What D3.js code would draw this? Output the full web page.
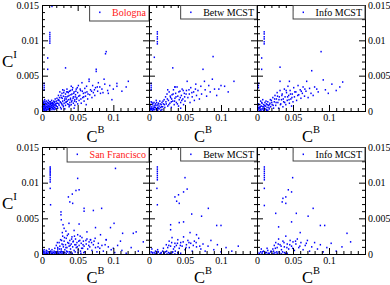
<!DOCTYPE html>
<html><head><meta charset="utf-8">
<script src="https://cdn.jsdelivr.net/npm/d3@7"></script>
<style>
body{margin:0;background:#fff}
svg{display:block}
text{font-family:"Liberation Serif","Times New Roman",serif}
</style>
</head><body><svg id="c" width="390" height="285"></svg>
<script>
// ---- data (C^B, C^I) ----
const bologna = [
[.001,.0001],[.002,.0003],[.003,.0001],[.003,.0005],[.004,.0002],[.004,.0008],[.005,.0004],[.005,.0011],[.006,.0001],[.006,.0006],[.007,.0003],[.007,.0009],[.008,.0005],[.008,.0012],[.009,.0002],[.009,.0007],[.010,.0004],[.010,.0010],[.011,.0001],[.011,.0006],[.012,.0003],[.012,.0009],[.012,.0013],[.013,.0005],[.013,.0011],[.014,.0002],[.014,.0008],[.015,.0004],[.015,.0012],[.016,.0006],[.016,.0010],[.017,.0002],[.017,.0008],[.018,.0005],[.018,.0013],[.019,.0003],[.019,.0010],[.020,.0007],[.020,.0014],[.002,.0007],[.001,.0004],[.003,.0010],[.006,.0014],[.009,.0015],[.004,.0013],
[.0015,.0002],[.0025,.0006],[.0035,.0003],[.0045,.0010],[.0055,.0007],[.0065,.0002],[.0075,.0012],[.0085,.0008],[.0095,.0004],[.0105,.0013],[.0115,.0009],[.0125,.0006],[.0135,.0015],[.0145,.0011],[.0155,.0007],[.0165,.0014],[.0175,.0005],[.0185,.0017],[.0195,.0008],[.0012,.0009],[.0022,.0012],[.0032,.0007],[.0042,.0001],[.0052,.0005],[.0062,.0010],[.0072,.0006],[.0082,.0002],[.0092,.0011],[.0102,.0007],[.0112,.0004],[.0122,.0011],[.0132,.0008],[.0142,.0005],[.0152,.0009],[.0162,.0003],[.0172,.0012],[.0182,.0009],[.0007,.0006],[.0017,.0011],[.0027,.0014],[.0037,.0016],
[.021,.0018],[.022,.0004],[.022,.0011],[.023,.0022],[.024,.0008],[.024,.0015],[.025,.0027],[.026,.0005],[.026,.0012],[.027,.0019],[.028,.0009],[.028,.0025],[.029,.0014],[.030,.0006],[.030,.0021],[.031,.0011],[.031,.0029],[.032,.0017],[.033,.0008],[.033,.0024],[.034,.0013],[.035,.0020],[.035,.0031],[.036,.0010],[.037,.0016],[.037,.0026],[.038,.0006],[.038,.0022],[.039,.0012],[.040,.0018],[.040,.0029],[.041,.0009],[.042,.0024],[.042,.0015],[.043,.0033],[.044,.0011],[.044,.0020],[.045,.0027],[.046,.0016],[.046,.0008],[.047,.0023],[.048,.0013],[.048,.0031],[.049,.0019],[.050,.0010],[.050,.0026],[.023,.0016],[.027,.0003],[.032,.0003],[.036,.0027],[.041,.0035],[.045,.0004],[.039,.0008],[.034,.0017],[.029,.0030],
[.0205,.0011],[.0215,.0006],[.0225,.0015],[.0235,.0010],[.0245,.0019],[.0255,.0013],[.0265,.0022],[.0275,.0011],[.0285,.0018],[.0295,.0008],[.0305,.0026],[.0315,.0015],[.0325,.0020],[.0335,.0012],[.0345,.0027],[.0355,.0014],[.0365,.0021],[.0375,.0009],[.0385,.0028],[.0395,.0016],[.0405,.0023],[.0415,.0013],[.0425,.0030],[.0435,.0018],[.0445,.0025],[.0455,.0014],[.0465,.0020],[.0475,.0028],[.0485,.0017],[.0495,.0033],[.0515,.0021],[.0535,.0031],[.0545,.0017],[.0565,.0028],[.0585,.0020],[.0605,.0026],[.0625,.0035],[.0645,.0024],[.0695,.0028],[.0735,.0030],[.0775,.0034],[.0855,.0026],
[.051,.0036],[.052,.0015],[.053,.0022],[.054,.0029],[.055,.0011],[.056,.0040],[.057,.0019],[.058,.0025],[.059,.0014],[.060,.0032],[.061,.0021],[.062,.0009],[.063,.0027],[.064,.0017],[.066,.0045],[.066,.0042],[.067,.0023],[.068,.0030],[.070,.0019],[.071,.0036],[.072,.0026],[.074,.0022],[.075,.0033],[.076,.0059],[.076,.0056],[.078,.0028],[.079,.0040],[.081,.0034],[.082,.0025],[.084,.0031],[.087,.0045],[.088,.0038],[.090,.0084],[.089,.0081],[.092,.0029],[.093,.0025],[.095,.0036],[.098,.0016],[.100,.0031],[.105,.0039],[.105,.0035],[.112,.0028],[.118,.0034],[.121,.0042],
[.011,.0111],[.011,.0108],[.011,.0105],[.011,.0102],[.011,.0099],[.011,.0096],[.014,.0148],[.003,.0039],[.003,.0036],[.003,.0033],[.003,.0030],[.008,.0075],[.008,.0059],[.033,.0061]
];
const bolognaBetw = [
[.001,.0001],[.002,.0004],[.003,.0002],[.004,.0006],[.005,.0001],[.005,.0009],[.006,.0004],[.007,.0007],[.007,.0012],[.008,.0002],[.009,.0005],[.009,.0010],[.010,.0003],[.011,.0008],[.012,.0001],[.012,.0005],[.013,.0011],[.014,.0003],[.014,.0007],[.015,.0014],[.016,.0005],[.017,.0009],[.018,.0002],[.018,.0012],[.019,.0006],[.020,.0010],[.002,.0009],[.004,.0012],[.010,.0015],[.003,.0013],
[.0015,.0007],[.0035,.0004],[.0055,.0011],[.0065,.0002],[.0085,.0008],[.0105,.0012],[.0125,.0009],[.0135,.0004],[.0155,.0010],[.0175,.0006],[.0195,.0014],[.0025,.0002],[.0045,.0003],[.0075,.0005],[.0115,.0003],[.0165,.0001],
[.021,.0016],[.022,.0005],[.023,.0020],[.024,.0010],[.025,.0024],[.026,.0007],[.027,.0015],[.028,.0027],[.029,.0011],[.030,.0019],[.031,.0005],[.032,.0023],[.033,.0014],[.034,.0030],[.035,.0009],[.036,.0018],[.037,.0025],[.038,.0012],[.039,.0034],[.040,.0021],[.041,.0007],[.042,.0016],[.043,.0028],[.044,.0012],[.045,.0022],[.046,.0031],[.047,.0017],[.048,.0009],[.049,.0025],[.050,.0014],[.026,.0030],[.031,.0013],[.036,.0034],[.044,.0004],
[.0215,.0009],[.0235,.0013],[.0255,.0017],[.0275,.0009],[.0295,.0021],[.0315,.0017],[.0335,.0024],[.0355,.0014],[.0375,.0020],[.0395,.0010],[.0415,.0027],[.0435,.0019],[.0455,.0015],[.0475,.0029],[.0495,.0020],[.0515,.0024],[.0555,.0030],[.0595,.0026],[.0645,.0031],
[.052,.0029],[.053,.0042],[.054,.0019],[.056,.0024],[.057,.0012],[.058,.0033],[.060,.0020],[.062,.0027],[.063,.0015],[.065,.0038],[.066,.0022],[.068,.0029],[.070,.0017],[.072,.0035],[.073,.0024],[.075,.0059],[.077,.0042],[.078,.0030],[.080,.0021],[.083,.0036],[.085,.0027],[.088,.0045],[.089,.0077],[.091,.0031],[.094,.0022],[.097,.0031],[.100,.0036],[.105,.0035],[.110,.0027],[.118,.0042],
[.0116,.0112],[.0116,.0109],[.0116,.0105],[.0116,.0102],[.0116,.0098],[.0116,.0095],[.003,.0039],[.003,.0036],[.003,.0033],[.003,.0030],[.0074,.0076],[.033,.0061],[.036,.0034]
];
const bolognaInfo = [
[.001,.0002],[.002,.0005],[.003,.0001],[.004,.0004],[.004,.0009],[.005,.0002],[.006,.0007],[.007,.0003],[.007,.0011],[.008,.0006],[.009,.0001],[.009,.0009],[.010,.0004],[.011,.0012],[.012,.0007],[.013,.0002],[.013,.0010],[.014,.0005],[.015,.0013],[.016,.0008],[.017,.0003],[.018,.0011],[.019,.0006],[.020,.0015],[.002,.0010],[.005,.0014],[.008,.0016],[.011,.0003],[.015,.0001],
[.0015,.0008],[.0025,.0003],[.0045,.0006],[.0065,.0012],[.0085,.0003],[.0105,.0008],[.0125,.0014],[.0145,.0009],[.0165,.0005],[.0185,.0016],[.0035,.0005],[.0055,.0001],[.0095,.0006],[.0135,.0001],[.0175,.0009],
[.021,.0009],[.022,.0019],[.023,.0004],[.024,.0013],[.025,.0022],[.026,.0008],[.027,.0017],[.028,.0026],[.029,.0012],[.030,.0004],[.031,.0020],[.032,.0029],[.033,.0010],[.034,.0016],[.035,.0024],[.036,.0006],[.037,.0013],[.038,.0031],[.039,.0020],[.040,.0009],[.041,.0026],[.042,.0015],[.043,.0035],[.044,.0022],[.045,.0011],[.046,.0029],[.047,.0017],[.048,.0007],[.049,.0024],[.050,.0013],[.032,.0042],[.045,.0042],
[.0205,.0012],[.0225,.0008],[.0245,.0017],[.0265,.0012],[.0285,.0021],[.0305,.0016],[.0325,.0009],[.0345,.0022],[.0365,.0017],[.0385,.0012],[.0405,.0029],[.0425,.0020],[.0445,.0016],[.0465,.0024],[.0485,.0019],[.0525,.0027],[.0565,.0022],[.0615,.0028],[.0665,.0031],
[.051,.0033],[.052,.0020],[.054,.0027],[.055,.0015],[.057,.0036],[.058,.0023],[.060,.0030],[.061,.0018],[.063,.0025],[.064,.0034],[.066,.0021],[.068,.0028],[.069,.0042],[.071,.0019],[.073,.0032],[.075,.0025],[.076,.0057],[.078,.0022],[.080,.0034],[.083,.0031],[.085,.0027],[.089,.0084],[.092,.0044],[.095,.0030],[.099,.0025],[.104,.0038],[.110,.0029],[.115,.0034],[.119,.0041],
[.010,.0112],[.010,.0109],[.010,.0105],[.010,.0102],[.010,.0098],[.010,.0095],[.002,.0039],[.002,.0036],[.002,.0033],[.0065,.0075],[.0065,.0059],[.032,.0062]
];
const sanFrancisco = [
[.001,.0001],[.002,.0004],[.003,.0001],[.004,.0003],[.005,.0000],[.006,.0002],[.007,.0004],[.008,.0001],[.009,.0003],[.010,.0000],[.011,.0002],[.012,.0004],[.013,.0001],[.014,.0003],[.015,.0000],[.016,.0002],[.017,.0004],[.018,.0001],[.019,.0003],[.020,.0000],[.021,.0002],[.022,.0004],[.023,.0001],[.024,.0003],[.025,.0000],[.026,.0002],[.027,.0004],[.028,.0001],[.029,.0003],[.030,.0000],[.032,.0002],[.034,.0001],[.036,.0003],[.038,.0000],[.040,.0002],[.003,.0006],[.006,.0005],[.010,.0007],[.014,.0006],[.018,.0008],[.022,.0007],
[.0025,.0002],[.0065,.0001],[.0105,.0003],[.0145,.0001],[.0185,.0002],[.0225,.0001],[.0265,.0003],[.0305,.0002],[.0345,.0004],[.0385,.0003],[.0425,.0001],[.0465,.0003],[.0505,.0002],[.0545,.0001],[.0585,.0002],
[.020,.0012],[.022,.0009],[.024,.0016],[.025,.0011],[.026,.0020],[.027,.0007],[.028,.0014],[.029,.0025],[.030,.0010],[.031,.0018],[.032,.0006],[.033,.0013],[.034,.0022],[.035,.0009],[.036,.0016],[.037,.0028],[.038,.0011],[.039,.0019],[.040,.0007],[.041,.0014],[.042,.0024],[.043,.0010],[.044,.0018],[.045,.0005],[.046,.0013],[.047,.0021],[.048,.0009],[.049,.0016],[.050,.0027],[.051,.0006],[.052,.0012],[.053,.0019],[.054,.0004],[.055,.0015],[.056,.0023],[.057,.0008],[.058,.0018],[.059,.0011],[.060,.0003],[.062,.0014],[.063,.0021],[.064,.0007],[.066,.0017],[.067,.0010],[.068,.0020],[.070,.0005],[.072,.0013],[.073,.0018],[.075,.0009],[.077,.0003],[.079,.0015],[.081,.0008],[.084,.0012],[.086,.0004],[.090,.0020],[.093,.0010],[.097,.0006],[.100,.0008],[.102,.0002],[.106,.0012],[.112,.0005],[.118,.0001],[.125,.0009],[.135,.0004],[.142,.0017],
[.0215,.0016],[.0245,.0007],[.0275,.0019],[.0295,.0013],[.0315,.0023],[.0335,.0009],[.0355,.0026],[.0375,.0015],[.0395,.0012],[.0415,.0021],[.0435,.0017],[.0455,.0025],[.0475,.0013],[.0495,.0010],[.0515,.0018],[.0535,.0025],[.0555,.0008],[.0575,.0013],[.0615,.0019],[.0655,.0012],[.0695,.0016],[.0745,.0022],[.0785,.0010],[.0885,.0013],[.0335,.0032],[.0295,.0041],[.0285,.0030],
[.0115,.0122],[.0115,.0120],[.0115,.0118],[.0115,.0116],[.0115,.0114],[.0115,.0112],[.0115,.0110],[.0115,.0107],[.0115,.0104],[.0115,.0101],[.0115,.0092],[.012,.0069],[.103,.0120],
[.050,.0106],[.052,.0090],[.0476,.0089],[.0425,.0084],[.037,.0080],[.039,.0073],[.043,.0071],[.0266,.0059],[.0266,.0055],[.027,.0048],[.059,.0064],[.059,.0060],[.0836,.0064],[.072,.0061],[.052,.0042],[.0378,.0043],[.075,.0037],[.096,.0037],[.101,.0043],[.113,.0029],[.132,.0031],[.128,.0029],[.068,.0020],[.090,.0020],[.031,.0036],[.045,.0033],[.063,.0031],[.082,.0027],[.110,.0018]
];
const sfBetw = [
[.001,.0001],[.003,.0003],[.005,.0000],[.007,.0002],[.009,.0004],[.011,.0001],[.013,.0003],[.015,.0000],[.017,.0002],[.019,.0004],[.021,.0001],[.023,.0003],[.025,.0000],[.027,.0002],[.030,.0001],[.033,.0003],[.036,.0000],[.040,.0002],[.044,.0001],[.004,.0007],[.012,.0006],[.020,.0008],
[.0045,.0002],[.0085,.0001],[.0125,.0003],[.0165,.0001],[.0205,.0002],[.0245,.0004],[.0285,.0001],[.0325,.0002],[.0365,.0004],[.0405,.0001],
[.024,.0013],[.026,.0009],[.028,.0018],[.030,.0011],[.032,.0023],[.034,.0007],[.036,.0015],[.038,.0012],[.040,.0020],[.042,.0008],[.044,.0016],[.046,.0011],[.048,.0024],[.050,.0006],[.052,.0013],[.054,.0019],[.056,.0009],[.058,.0015],[.060,.0004],[.063,.0018],[.066,.0010],[.069,.0022],[.072,.0007],[.075,.0014],[.078,.0004],[.082,.0011],[.086,.0019],[.090,.0006],[.095,.0013],[.100,.0003],[.107,.0009],[.115,.0004],[.124,.0011],
[.0275,.0012],[.0315,.0016],[.0355,.0010],[.0395,.0015],[.0435,.0012],[.0475,.0017],[.0515,.0009],[.0555,.0016],[.0615,.0012],[.0655,.0016],[.0705,.0011],
[.0116,.0122],[.0116,.0119],[.0116,.0116],[.0116,.0113],[.0116,.0110],[.0116,.0107],[.0116,.0104],[.0110,.0092],[.0116,.0069],
[.050,.0107],[.053,.0091],[.048,.0087],[.041,.0083],[.036,.0080],[.0384,.0074],[.042,.0071],[.0593,.0056],[.073,.0053],[.0824,.0064],[.048,.0045],[.042,.0044],[.094,.0040],[.100,.0040],[.030,.0041],[.030,.0034],[.057,.0030],[.066,.0027]
];
const sfInfo = [
[.001,.0002],[.003,.0000],[.005,.0003],[.007,.0001],[.009,.0004],[.011,.0000],[.013,.0002],[.015,.0005],[.017,.0001],[.019,.0003],[.021,.0000],[.023,.0004],[.025,.0002],[.028,.0001],[.031,.0003],[.034,.0000],[.038,.0002],[.042,.0001],[.006,.0007],[.014,.0008],[.022,.0007],
[.0035,.0001],[.0075,.0003],[.0115,.0002],[.0155,.0001],[.0195,.0004],[.0235,.0001],[.0275,.0003],[.0315,.0001],[.0355,.0003],[.0395,.0001],
[.024,.0012],[.026,.0016],[.028,.0009],[.030,.0021],[.032,.0013],[.034,.0006],[.036,.0018],[.038,.0010],[.040,.0025],[.042,.0014],[.044,.0007],[.046,.0019],[.048,.0011],[.050,.0017],[.052,.0005],[.054,.0014],[.056,.0021],[.058,.0009],[.061,.0016],[.064,.0006],[.067,.0012],[.070,.0019],[.073,.0004],[.076,.0010],[.080,.0016],[.084,.0007],[.088,.0013],[.092,.0003],[.097,.0009],[.103,.0015],[.110,.0004],[.118,.0010],
[.0255,.0008],[.0295,.0014],[.0335,.0011],[.0375,.0016],[.0415,.0009],[.0455,.0013],[.0495,.0008],[.0535,.0018],[.0595,.0011],[.0685,.0015],
[.0102,.0122],[.0102,.0119],[.0102,.0116],[.0102,.0113],[.0102,.0110],[.0102,.0107],[.0102,.0104],[.0102,.0092],[.0102,.0068],
[.0495,.0107],[.048,.0087],[.0435,.0090],[.040,.0080],[.036,.0078],[.035,.0073],[.040,.0071],[.0546,.0057],[.071,.0053],[.078,.0064],[.026,.0057],[.030,.0038],[.048,.0045],[.094,.0040],[.088,.0040],[.125,.0029],[.130,.0017],[.060,.0030]
];

const labels = ["Bologna","Betw MCST","Info MCST","San Francisco","Betw MCST","Info MCST"];
const labelColors = ["#ff2020","#000","#000","#ff2020","#000","#000"];
const series = [bologna,bolognaBetw,bolognaInfo,sanFrancisco,sfBetw,sfInfo];

const xMajor = [0,0.05,0.1];
const xMajorLabels = ["0","0.05","0.1"];
const xMinor = [0.01,0.02,0.03,0.04,0.06,0.07,0.08,0.09,0.11,0.12,0.13,0.14];
const yMajor = [0,0.005,0.01,0.015];
const yMajorLabels = ["0","0.005","0.01","0.015"];
const yMinor = [0.001,0.002,0.003,0.004,0.006,0.007,0.008,0.009,0.011,0.012,0.013,0.014];

// ---- layout ----
const colEdges = [42,149,257,365];
const rowEdges = [[5,111],[147,254]];
const svg = d3.select("#c");

function drawAxis(g, axis, values, size, fmt){
  const a = axis.tickValues(values).tickSizeInner(size).tickSizeOuter(0).tickPadding(3);
  a.tickFormat(fmt ? ((d,i)=>fmt[i]) : (()=>""));
  g.call(a);
  g.select(".domain").remove();
  g.selectAll("line").attr("stroke","#000").attr("stroke-width",1);
  g.selectAll("text").attr("font-size",10).attr("fill","#000").attr("font-family","'Liberation Serif',serif");
}

series.forEach((data,i)=>{
  const r = Math.floor(i/3), c = i%3;
  const x0 = colEdges[c], x1 = colEdges[c+1];
  const [y0,y1] = rowEdges[r];
  const x = d3.scaleLinear().domain([0,0.15]).range([x0,x1]);
  const y = d3.scaleLinear().domain([0,0.015]).range([y1,y0]);
  const g = svg.append("g");

  // points
  g.append("g").selectAll("rect").data(data).join("rect")
    .attr("x",d=>x(d[0])-0.7).attr("y",d=>y(d[1])-0.8)
    .attr("width",1.4).attr("height",1.6).attr("fill","#0000ff");

  // axes (ticks inward)
  drawAxis(g.append("g").attr("transform",`translate(0,${y1})`), d3.axisBottom(x), xMajor, -6, xMajorLabels);
  drawAxis(g.append("g").attr("transform",`translate(0,${y1})`), d3.axisBottom(x), xMinor, -3, null);
  drawAxis(g.append("g").attr("transform",`translate(0,${y0})`), d3.axisTop(x), xMajor, -6, null);
  drawAxis(g.append("g").attr("transform",`translate(0,${y0})`), d3.axisTop(x), xMinor, -3, null);
  drawAxis(g.append("g").attr("transform",`translate(${x0},0)`), d3.axisLeft(y), yMajor, -6, c===0?yMajorLabels:null);
  drawAxis(g.append("g").attr("transform",`translate(${x0},0)`), d3.axisLeft(y), yMinor, -3, null);
  drawAxis(g.append("g").attr("transform",`translate(${x1},0)`), d3.axisRight(y), yMajor, -6, c===2?yMajorLabels:null);
  drawAxis(g.append("g").attr("transform",`translate(${x1},0)`), d3.axisRight(y), yMinor, -3, null);

  // frame
  g.append("rect").attr("x",x0+0.5).attr("y",y0+0.5).attr("width",x1-x0).attr("height",y1-y0)
    .attr("fill","none").attr("stroke","#000").attr("stroke-width",1);

  // legend
  const lg = g.append("g");
  const t = lg.append("text").attr("x",x1-3).attr("y",y0+10.5).attr("text-anchor","end")
    .attr("font-size",10).attr("fill",labelColors[i]).text(labels[i]);
  const tw = t.node().getComputedTextLength();
  const tx = x1-3-tw;
  const bh = (c===0) ? (r===0?15.5:14.5) : 13.5;
  lg.insert("rect","text").attr("x",tx-22.5).attr("y",y0+0.5).attr("width",x1-(tx-22.5)).attr("height",bh)
    .attr("fill","#fff").attr("stroke","#444").attr("stroke-width",1);
  lg.append("rect").attr("x",tx-13).attr("y",y0+6.5).attr("width",1.4).attr("height",1.6).attr("fill","#0000ff");

  // x title
  const xt = g.append("text").attr("x",(x0+x1)/2).attr("y",r===0?y1+30.5:282.5).attr("text-anchor","middle").attr("font-size",16.5);
  xt.append("tspan").text("C");
  xt.append("tspan").attr("font-size",10.5).attr("dy",-9).text("B");
  if(c===0){
    const yt = g.append("text").attr("x",2).attr("y",(y0+y1)/2+8.5).attr("font-size",17);
    yt.append("tspan").text("C");
    yt.append("tspan").attr("font-size",11).attr("dy",-9).text("I");
  }
});
</script></body></html>
